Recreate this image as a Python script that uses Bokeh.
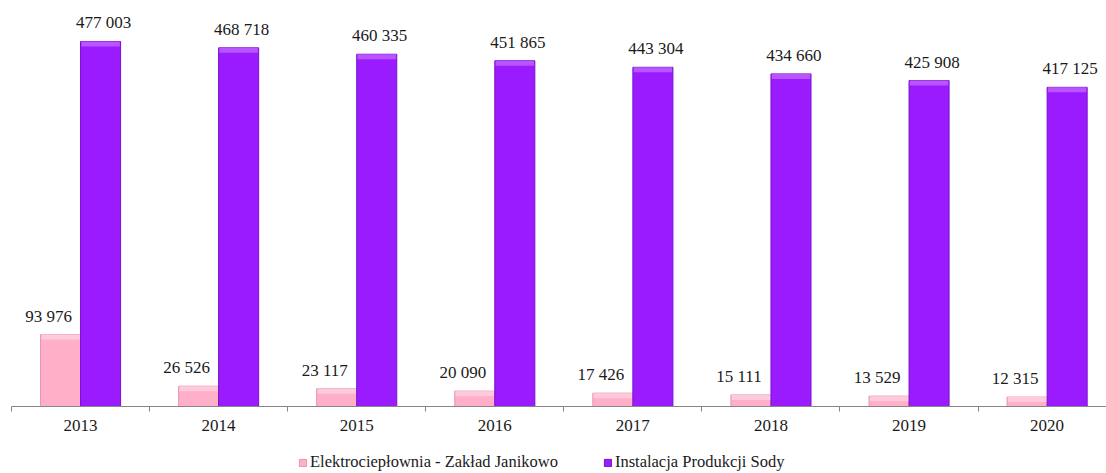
from bokeh.plotting import figure
from bokeh.layouts import column
from bokeh.models import Range1d, FixedTicker, Legend, LegendItem, ColumnDataSource
from bokeh.core.properties import value
from bokeh.embed import file_html
from bokeh.resources import INLINE

years = ["2013", "2014", "2015", "2016", "2017", "2018", "2019", "2020"]
elektro = [93976, 26526, 23117, 20090, 17426, 15111, 13529, 12315]
soda = [477003, 468718, 460335, 451865, 443304, 434660, 425908, 417125]
series_names = ["Elektrociepłownia - Zakład Janikowo", "Instalacja Produkcji Sody"]

def fmt(v):
    return f"{v:,}".replace(",", " ")

frame_h = 406
ymax = 530584
bw = 0.29
centers = [i + 0.5 for i in range(len(years))]

p = figure(width=1106, height=440, output_backend="svg", toolbar_location=None,
           x_range=Range1d(0, 7.93), y_range=Range1d(0, ymax),
           min_border_left=11, min_border_right=0, min_border_top=0, min_border_bottom=34)
p.outline_line_color = None
p.grid.visible = False
p.yaxis.visible = False
p.background_fill_color = "white"

src = ColumnDataSource(dict(
    x=centers,
    xp=[c - bw / 2 for c in centers],
    xs=[c + bw / 2 for c in centers],
    e=elektro, s=soda,
    el=[fmt(v) for v in elektro], sl=[fmt(v) for v in soda],
))

px_per_unit = frame_h / ymax
bevel = 5 / px_per_unit

pink, pink_hi, pink_edge = "#FFAFC8", "#FFCADB", "#E597B0"
purp, purp_hi, purp_edge = "#9B1BFF", "#B955FF", "#7A10CC"

p.vbar(x="xp", top="e", bottom=0, width=bw, source=src, fill_color=pink,
       line_color=pink_edge, line_width=1)
p.vbar(x="xs", top="s", bottom=0, width=bw, source=src, fill_color=purp,
       line_color=purp_edge, line_width=1)
src.data["eb"] = [v - bevel for v in elektro]
src.data["sb"] = [v - bevel for v in soda]
p.vbar(x="xp", top="e", bottom="eb", width=bw * 0.96, source=src, fill_color=pink_hi,
       line_color=None)
p.vbar(x="xs", top="s", bottom="sb", width=bw * 0.96, source=src, fill_color=purp_hi,
       line_color=None)

font = value("Liberation Serif")
p.text(x="xp", y="e", text="el", source=src, text_font=font, text_font_size="17px",
       text_align="center", text_baseline="bottom", y_offset=-9, x_offset=-12,
       text_color="#1a1a1a")
p.text(x="xs", y="s", text="sl", source=src, text_font=font, text_font_size="17px",
       text_align="center", text_baseline="bottom", y_offset=-9, x_offset=3,
       text_color="#1a1a1a")

ax = p.xaxis[0]
ax.ticker = FixedTicker(ticks=centers, minor_ticks=list(range(len(years) + 1)))
ax.major_label_overrides = {c: y for c, y in zip(centers, years)}
ax.major_tick_out = 0
ax.major_tick_in = 0
ax.minor_tick_out = 5
ax.minor_tick_in = 0
ax.minor_tick_line_color = "#868686"
ax.axis_line_color = "#868686"
ax.major_label_text_font = "Liberation Serif"
ax.major_label_text_font_size = "17px"
ax.major_label_text_color = "#1a1a1a"
ax.major_label_standoff = 8

# legend figure: proxy bars (same data) kept outside its visible range
lg = figure(width=1106, height=33, output_backend="svg", toolbar_location=None,
            x_range=Range1d(-20, -19), y_range=Range1d(0, 1),
            min_border=0)
lg.outline_line_color = None
lg.grid.visible = False
lg.axis.visible = False
d1 = lg.vbar(x="xp", top="e", width=bw, source=src, fill_color=pink, line_color=pink_edge)
d2 = lg.vbar(x="xs", top="s", width=bw, source=src, fill_color=purp, line_color=purp_edge)
legend = Legend(items=[LegendItem(label=series_names[0], renderers=[d1], index=0),
                       LegendItem(label=series_names[1], renderers=[d2], index=0)],
                orientation="horizontal", location=(287, 1),
                label_text_font="Liberation Serif", label_text_font_size="16.5px",
                label_text_color="#1a1a1a", glyph_width=9, glyph_height=9,
                label_standoff=3, spacing=45, padding=2, margin=0,
                label_height=16, border_line_color=None, background_fill_alpha=0)
lg.add_layout(legend, "center")

layout = column(p, lg, spacing=0)
open("out.html", "w").write(file_html(layout, INLINE))
